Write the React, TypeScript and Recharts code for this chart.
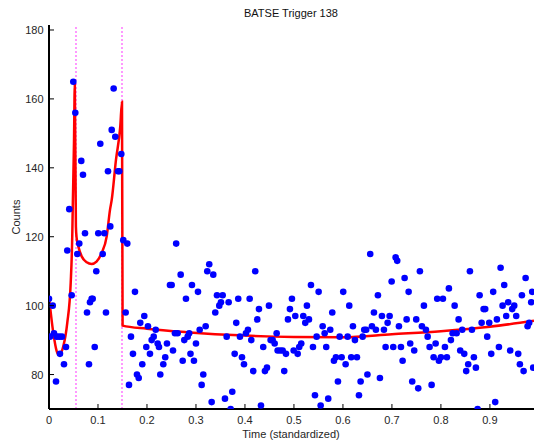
import React from 'react';
import { ComposedChart, XAxis, YAxis, Scatter, Line, ReferenceLine } from 'recharts';

// Binned photon counts over standardized time
const times = [
  0.0, 0.002, 0.0076, 0.0102, 0.0143, 0.0157, 0.021, 0.0224, 0.0265, 0.0306,
  0.0347, 0.0373, 0.0414, 0.0463, 0.0496, 0.0537, 0.0578, 0.0618, 0.0659, 0.0694,
  0.0735, 0.0776, 0.0816, 0.0837, 0.0871, 0.0892, 0.0933, 0.0965, 0.1006, 0.1047,
  0.1096, 0.1129, 0.1163, 0.1204, 0.1251, 0.128, 0.132, 0.1353, 0.1408, 0.1435,
  0.1476, 0.1516, 0.1565, 0.1598, 0.1633, 0.1673, 0.1714, 0.1755, 0.1796, 0.1831,
  0.1863, 0.1904, 0.1945, 0.1986, 0.202, 0.2061, 0.2096, 0.2137, 0.2178, 0.2218,
  0.2245, 0.2272, 0.2333, 0.2373, 0.2408, 0.2469, 0.2504, 0.2531, 0.2571, 0.2596,
  0.2625, 0.2688, 0.2729, 0.2761, 0.2796, 0.2831, 0.2861, 0.2888, 0.2918, 0.2959,
  0.3, 0.3041, 0.3076, 0.3116, 0.3149, 0.3198, 0.3231, 0.3271, 0.332, 0.3353,
  0.3394, 0.3429, 0.3476, 0.351, 0.3545, 0.3592, 0.3627, 0.3667, 0.3708, 0.3741,
  0.379, 0.3822, 0.3863, 0.3898, 0.3939, 0.398, 0.402, 0.4061, 0.4096, 0.4129,
  0.4169, 0.421, 0.4251, 0.4286, 0.4327, 0.4373, 0.4408, 0.4449, 0.449, 0.4524,
  0.4565, 0.4606, 0.4647, 0.4667, 0.472, 0.4769, 0.4802, 0.4837, 0.4878, 0.4918,
  0.4959, 0.4994, 0.5027, 0.5076, 0.5108, 0.5149, 0.519, 0.5231, 0.5265, 0.5306,
  0.5347, 0.5388, 0.5429, 0.5463, 0.5504, 0.5545, 0.5586, 0.5627, 0.5659, 0.57,
  0.5741, 0.5782, 0.5816, 0.5857, 0.5898, 0.5933, 0.5973, 0.6006, 0.6055, 0.6096,
  0.6129, 0.6169, 0.6204, 0.6245, 0.6286, 0.6327, 0.6361, 0.6402, 0.6435, 0.6475,
  0.65, 0.6557, 0.6592, 0.6633, 0.6673, 0.6714, 0.6755, 0.6796, 0.6837, 0.6871,
  0.6912, 0.6953, 0.6994, 0.7027, 0.7076, 0.7108, 0.7143, 0.7184, 0.7218, 0.7259,
  0.73, 0.7341, 0.7373, 0.7414, 0.7455, 0.7496, 0.7537, 0.7571, 0.7612, 0.7653,
  0.7694, 0.7729, 0.7769, 0.781, 0.7851, 0.7892, 0.7924, 0.7959, 0.8, 0.8041,
  0.8082, 0.8122, 0.8163, 0.8204, 0.8239, 0.828, 0.832, 0.8361, 0.8394, 0.8435,
  0.8476, 0.8516, 0.8557, 0.8592, 0.8633, 0.8673, 0.8714, 0.8749, 0.879, 0.8831,
  0.8871, 0.8904, 0.8945, 0.8986, 0.9027, 0.9067, 0.9108, 0.9143, 0.9184, 0.9218,
  0.9259, 0.9292, 0.9333, 0.9373, 0.9414, 0.9455, 0.9496, 0.9537, 0.9578, 0.9612,
  0.9653, 0.9688, 0.9729, 0.9769, 0.9802, 0.9843, 0.9863, 0.9884,
];

const counts = [
  102, 91, 100, 92, 78, 91, 91, 86, 91, 83,
  88, 116, 128, 103, 165, 156, 115, 118, 142, 138,
  121, 98, 83, 101, 102, 102, 88, 110, 121, 147,
  115, 121, 98, 139, 123, 151, 163, 149, 139, 139,
  144, 119, 98, 118, 77, 91, 86, 104, 80, 79,
  95, 83, 97, 88, 94, 86, 90, 91, 93, 89,
  88, 80, 83, 85, 89, 106, 106, 87, 92, 118,
  92, 109, 84, 90, 102, 91, 92, 86, 106, 84,
  89, 104, 93, 77, 80, 94, 110, 112, 72, 109,
  98, 103, 100, 101, 103, 73, 91, 101, 70, 75,
  86, 95, 102, 91, 85, 83, 92, 93, 102, 90,
  81, 110, 96, 99, 71, 88, 81, 82, 100, 90,
  90, 89, 92, 87, 87, 87, 81, 86, 96, 99,
  102, 87, 97, 86, 88, 89, 97, 95, 100, 96,
  106, 88, 74, 91, 104, 71, 94, 92, 88, 73,
  93, 98, 84, 85, 78, 91, 85, 104, 83, 91,
  100, 85, 94, 90, 85, 74, 78, 91, 93, 93,
  80, 115, 94, 98, 93, 103, 79, 97, 93, 88,
  95, 97, 107, 88, 114, 113, 94, 88, 84, 108,
  96, 104, 89, 78, 87, 96, 76, 110, 94, 100,
  93, 91, 88, 77, 85, 89, 102, 84, 85, 102,
  88, 85, 105, 90, 92, 100, 92, 96, 87, 93,
  86, 81, 83, 110, 93, 85, 82, 70, 103, 95,
  99, 99, 91, 95, 86, 104, 72, 96, 88, 111,
  100, 106, 97, 101, 87, 99, 100, 97, 86, 83,
  103, 81, 108, 94, 95, 101, 104, 82,
];

// Fitted pulse model (two pulses on a slowly varying background)
const fitTimes = [
  0.0, 0.0088, 0.0157, 0.0204, 0.0292, 0.0373, 0.0443, 0.0476, 0.0484, 0.051,
  0.0527, 0.0549, 0.0565, 0.0598, 0.0667, 0.077, 0.087, 0.097, 0.1075, 0.1178,
  0.1245, 0.128, 0.1367, 0.1455, 0.149, 0.1502, 0.2, 0.28, 0.4, 0.5,
  0.6, 0.7, 0.8, 0.9, 0.99,
];
const fitCounts = [
  102.5, 92.1, 86.8, 85.7, 88.2, 95.0, 106.6, 121.1, 127.8, 147.2,
  164.5, 123.0, 119.5, 117.2, 114.3, 112.6, 112.1, 112.8, 115.3, 120.1,
  127.8, 130.7, 142.3, 152.0, 159.2, 94.2, 93.3, 92.3, 91.3, 90.9,
  90.8, 91.7, 92.6, 93.9, 95.6,
];

// Detected change points
const changePoints = [0.0551, 0.149];

const xTicks = [0, 0.1, 0.2, 0.3, 0.4, 0.5, 0.6, 0.7, 0.8, 0.9];
const yTicks = [80, 100, 120, 140, 160, 180];

const pointData = times.map((t, i) => ({ t, y: counts[i] }));
const fitData = fitTimes.map((t, i) => ({ t, y: fitCounts[i] }));

const FONT = "'Liberation Sans', Arial, Helvetica, sans-serif";
const TEXT = '#262626';
const TICK_LEN = 5;

const fmtX = (v: number) => String(Number(v.toFixed(1)));

function BottomTick(props: any) {
  const { x, y, payload } = props;
  return (
    <g>
      <line x1={x} y1={y} x2={x} y2={y - TICK_LEN} stroke="#000" strokeWidth={1} />
      <text x={x} y={y + 15} textAnchor="middle" fontSize={11} fontFamily={FONT} fill={TEXT}>
        {fmtX(payload.value)}
      </text>
    </g>
  );
}

function TopTick(props: any) {
  const { x, y } = props;
  return <line x1={x} y1={y} x2={x} y2={y + TICK_LEN} stroke="#000" strokeWidth={1} />;
}

function LeftTick(props: any) {
  const { x, y, payload } = props;
  return (
    <g>
      <line x1={x} y1={y} x2={x + TICK_LEN} y2={y} stroke="#000" strokeWidth={1} />
      <text x={x - 5.5} y={y + 4} textAnchor="end" fontSize={11} fontFamily={FONT} fill={TEXT}>
        {payload.value}
      </text>
    </g>
  );
}

function RightTick(props: any) {
  const { x, y } = props;
  return <line x1={x} y1={y} x2={x - TICK_LEN} y2={y} stroke="#000" strokeWidth={1} />;
}

const Dot = (props: any) => <circle cx={props.cx} cy={props.cy} r={3.3} fill="#0000ff" />;

const axisLine = { stroke: '#000', strokeWidth: 2 };
const X_DOMAIN: [number, number] = [0, 0.99];
const Y_DOMAIN: [number, number] = [70, 181.45];

export default function App() {
  return (
    <div style={{ position: 'absolute', left: 0, top: 0, width: 534, height: 440, background: '#fff' }}>
      <ComposedChart width={534} height={440} margin={{ top: 25, right: 0, bottom: 0, left: 0 }}>
        <XAxis
          xAxisId={0}
          dataKey="t"
          type="number"
          domain={X_DOMAIN}
          allowDataOverflow
          ticks={xTicks}
          interval={0}
          height={31}
          tickSize={0}
          tickMargin={0}
          tickLine={false}
          axisLine={axisLine}
          tick={<BottomTick />}
        />
        <XAxis
          xAxisId="top"
          orientation="top"
          dataKey="t"
          type="number"
          domain={X_DOMAIN}
          allowDataOverflow
          ticks={xTicks}
          interval={0}
          height={0}
          tickSize={0}
          tickMargin={0}
          tickLine={false}
          axisLine={axisLine}
          tick={<TopTick />}
        />
        <YAxis
          yAxisId={0}
          dataKey="y"
          type="number"
          domain={Y_DOMAIN}
          allowDataOverflow
          ticks={yTicks}
          interval={0}
          width={49}
          tickSize={0}
          tickMargin={0}
          tickLine={false}
          axisLine={axisLine}
          tick={<LeftTick />}
        />
        <YAxis
          yAxisId="right"
          orientation="right"
          dataKey="y"
          type="number"
          domain={Y_DOMAIN}
          allowDataOverflow
          ticks={yTicks}
          interval={0}
          width={0}
          tickSize={0}
          tickMargin={0}
          tickLine={false}
          axisLine={axisLine}
          tick={<RightTick />}
        />
        {changePoints.map((cp) => (
          <ReferenceLine
            key={cp}
            x={cp}
            xAxisId={0}
            yAxisId={0}
            stroke="#ff55ff"
            strokeWidth={1.2}
            strokeDasharray="2 2"
          />
        ))}
        <Scatter
          data={pointData}
          dataKey="y"
          xAxisId={0}
          yAxisId={0}
          shape={<Dot />}
          isAnimationActive={false}
        />
        <Line
          data={fitData}
          dataKey="y"
          xAxisId={0}
          yAxisId={0}
          type="monotone"
          stroke="#ff0000"
          strokeWidth={2.5}
          dot={false}
          activeDot={false}
          isAnimationActive={false}
        />
        <text x={291} y={17} textAnchor="middle" fontSize={11} fontFamily={FONT} fill="#111">
          BATSE Trigger 138
        </text>
        <text x={291} y={437.5} textAnchor="middle" fontSize={11} fontFamily={FONT} fill={TEXT}>
          Time (standardized)
        </text>
        <text
          x={20}
          y={217}
          textAnchor="middle"
          fontSize={11}
          fontFamily={FONT}
          fill={TEXT}
          transform="rotate(-90 20 217)"
        >
          Counts
        </text>
      </ComposedChart>
    </div>
  );
}
